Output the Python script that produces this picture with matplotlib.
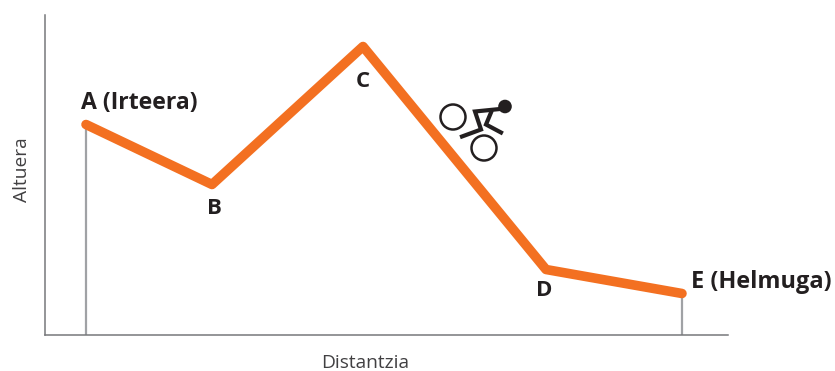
import matplotlib
matplotlib.use("Agg")
import matplotlib.pyplot as plt
from matplotlib.patches import Circle

# profile of the stage
distantzia = [41, 167, 318, 501, 637]
altuera = [210, 150, 288, 65, 41]
puntuak = ["A (Irteera)", "B", "C", "D", "E (Helmuga)"]

# cyclist icon
gurpilak = [(408, 217.5), (439, 186.5)]
burua = (460, 228)
gorputza_x = [460, 430, 436, 417]
gorputza_y = [226, 223, 205, 198]
hanka_x = [446, 441, 456]
hanka_y = [222, 210, 202]

plt.rcParams["font.family"] = ["Open Sans", "DejaVu Sans"]

fig = plt.figure(figsize=(8.35, 3.71), dpi=100)
ax = fig.add_axes([45 / 835, (371 - 334.5) / 371, 683 / 835, 319.5 / 371])
ax.set_xlim(0, 683)
ax.set_ylim(0, 319.5)

for s in ["top", "right"]:
    ax.spines[s].set_visible(False)
for s in ["left", "bottom"]:
    ax.spines[s].set_color("#77787b")
    ax.spines[s].set_linewidth(1.1)
ax.set_xticks([])
ax.set_yticks([])

# drop lines at start and finish
ax.vlines([distantzia[0], distantzia[-1]], 0, [altuera[0], altuera[-1]], color="#a0a2a5", lw=1.6)

ax.plot(distantzia, altuera, color="#f37021", lw=6.9, solid_capstyle="round", solid_joinstyle="round", zorder=3)

tx = [36, 169, 318, 499, 646]
ty = [231, 126, 253, 44, 52]
aligns = ["left", "center", "center", "center", "left"]
sizes = [16.6, 16, 16, 16, 16.9]
for i in range(5):
    ax.text(tx[i], ty[i], puntuak[i], ha=aligns[i], va="center", fontsize=sizes[i],
            fontweight="bold", color="#231f20", clip_on=False)

ax.text(320, -28.5, "Distantzia", ha="center", va="center", fontsize=13.8, color="#414042", clip_on=False)
ax.text(-23, 165, "Altuera", ha="center", va="center", rotation=90, fontsize=13.8, color="#414042", clip_on=False)

for g in gurpilak:
    ax.add_patch(Circle(g, 12.5, fc="white", ec="#231f20", lw=1.8))
ax.add_patch(Circle(burua, 6.8, fc="#231f20", ec="none", zorder=4))
ax.plot(gorputza_x, gorputza_y, color="#231f20", lw=3, solid_joinstyle="miter")
ax.plot(hanka_x, hanka_y, color="#231f20", lw=3, solid_joinstyle="miter")

fig.savefig("out.png", dpi=100)
